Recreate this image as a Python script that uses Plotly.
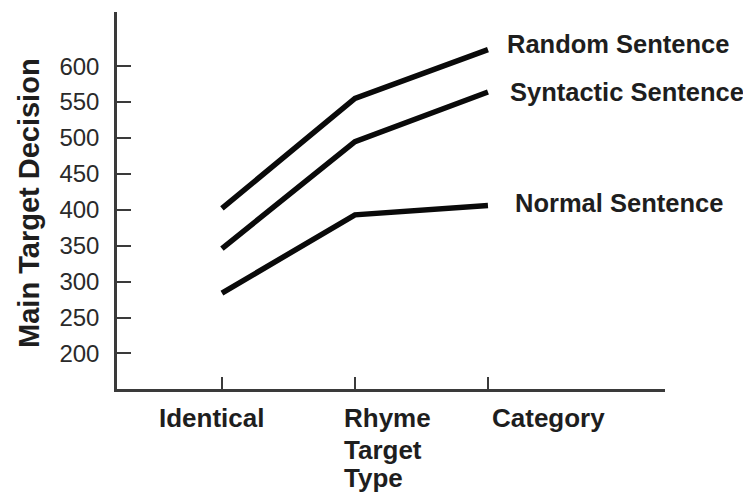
import plotly.graph_objects as go

categories = ["Identical", "Rhyme", "Category"]
cat_pos = [0, 1, 2]
series_names = ["Random Sentence", "Syntactic Sentence", "Normal Sentence"]
random_vals = [402, 555, 623]
syntactic_vals = [346, 495, 564]
normal_vals = [284, 393, 406]
y_ticks = [200, 250, 300, 350, 400, 450, 500, 550, 600]

FONT = "Liberation Sans, Arial, sans-serif"
TXT = "#1e1e1e"
AX = "#3a3a3a"

fig = go.Figure()
all_vals = [random_vals, syntactic_vals, normal_vals]
label_shift = [(17, 6), (20, 0), (25, 2)]
for name, vals, (xs, ys) in zip(series_names, all_vals, label_shift):
    fig.add_trace(go.Scatter(x=cat_pos, y=vals, mode="lines", name=name,
                             line=dict(color="#0a0a0a", width=5.5),
                             showlegend=False, hoverinfo="skip"))
    fig.add_annotation(x=cat_pos[-1], y=vals[-1], xref="x", yref="y",
                       text=name, showarrow=False, xanchor="left", yanchor="middle",
                       xshift=xs, yshift=ys,
                       font=dict(family=FONT, size=25.5, color=TXT, weight="bold"))

# x category labels (offset as in the original drawing)
x_label_shift = [-65, -13, 2]
for pos, lab, xs in zip(cat_pos, categories, x_label_shift):
    fig.add_annotation(x=pos, y=-0.078, xref="x", yref="paper", text=lab,
                       showarrow=False, xanchor="left", yanchor="middle", xshift=xs,
                       font=dict(family=FONT, size=26, color=TXT, weight="bold"))
# axis title "Target Type" stacked under Rhyme
for txt, yy in [("Target", -0.163), ("Type", -0.235)]:
    fig.add_annotation(x=cat_pos[1], y=yy, xref="x", yref="paper", text=txt,
                       showarrow=False, xanchor="left", yanchor="middle", xshift=-13,
                       font=dict(family=FONT, size=26, color=TXT, weight="bold"))

fig.add_annotation(x=-0.161, y=0.493, xref="paper", yref="paper",
                   text="Main Target Decision", textangle=-90, showarrow=False,
                   xanchor="center", yanchor="middle",
                   font=dict(family=FONT, size=29, color=TXT, weight="bold"))

fig.update_xaxes(range=[-0.789, 3.331], tickvals=cat_pos, showticklabels=False,
                 ticks="inside", ticklen=12, tickwidth=2, tickcolor=AX,
                 showline=True, linecolor=AX, linewidth=2.5, showgrid=False,
                 zeroline=False, fixedrange=True)
fig.update_yaxes(range=[150.5, 675.4], tickvals=y_ticks,
                 ticks="inside", ticklen=14, tickwidth=2, tickcolor=AX,
                 ticklabelstandoff=10,
                 tickfont=dict(family=FONT, size=24, color="#2a2a2a"),
                 showline=True, linecolor=AX, linewidth=2.5, showgrid=False,
                 zeroline=False, fixedrange=True)

fig.update_layout(width=743, height=488, margin=dict(l=109, r=86, t=4, b=107),
                  plot_bgcolor="white", paper_bgcolor="white")

fig.write_html("out.html")
